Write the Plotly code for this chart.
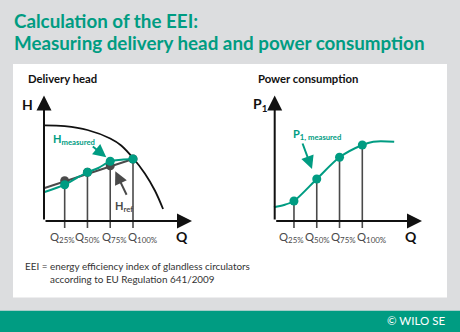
import plotly.graph_objects as go

W, H = 460, 332

# ---------------- data ----------------
q_points = [0.25, 0.5, 0.75, 1.0]
q_labels = ["Q<sub>25%</sub>", "Q<sub>50%</sub>", "Q<sub>75%</sub>", "Q<sub>100%</sub>"]

# pump curve (delivery head vs flow)
pump_q = [0.03, 0.25, 0.5, 0.75, 0.87, 1.0, 1.13, 1.24, 1.33]
pump_h = [95.7, 94.8, 91.0, 82.5, 75.5, 63.0, 47.5, 30.5, 12.0]

# measured head curve
hmeas_q = [0.03, 0.25, 0.38, 0.5, 0.62, 0.75, 0.87, 1.0]
hmeas_h = [29.0, 36.3, 43.0, 48.7, 53.0, 59.7, 61.3, 62.0]
hmeas_pts = [36.3, 48.7, 59.7, 62.0]

# reference head line
href_q = [0.03, 1.0]
href_h = [33.0, 62.0]
href_pts = [40.3, 48.7, 55.3, 62.0]

# measured power consumption
p1_q = [0.03, 0.14, 0.25, 0.5, 0.75, 1.0, 1.12, 1.35]
p1_v = [13.7, 16.0, 20.0, 42.0, 63.7, 76.0, 79.3, 79.3]
p1_pts = [20.0, 42.0, 63.7, 76.0]

# ---------------- style ----------------
GREEN = "#009c82"
GREY = "#4a4a4a"
DARK = "#111111"
BG = "#dcdddf"
FONT = "Lato"

# pixel geometry helpers
SX = 91.1          # px per flow unit
X0_L, X0_R = 41.9, 271.2
Y0 = 221.0         # pixel row of value 0
DOM_X_L = (28, 198)
DOM_X_R = (258, 428)
DOM_Y = (86, 246)


def px(x):
    return x / W


def py(y):
    return 1 - y / H


def qL(x):
    return (x - X0_L) / SX


def qR(x):
    return (x - X0_R) / SX


def v(y):
    return Y0 - y


fig = go.Figure()

# left chart traces
fig.add_trace(go.Scatter(x=pump_q, y=pump_h, mode="lines", line=dict(color=DARK, width=1.8, shape="spline"),
                         xaxis="x", yaxis="y", hoverinfo="skip"))
drop_x, drop_y = [], []
for q, h in zip(q_points, hmeas_pts):
    drop_x += [q, q, None]
    drop_y += [h, -7, None]
fig.add_trace(go.Scatter(x=drop_x, y=drop_y, mode="lines", line=dict(color=GREY, width=1.6),
                         xaxis="x", yaxis="y", hoverinfo="skip"))
fig.add_trace(go.Scatter(x=href_q, y=href_h, mode="lines", line=dict(color=GREY, width=2),
                         xaxis="x", yaxis="y", hoverinfo="skip"))
fig.add_trace(go.Scatter(x=q_points, y=href_pts, mode="markers", marker=dict(color=GREY, size=9),
                         xaxis="x", yaxis="y", hoverinfo="skip"))
fig.add_trace(go.Scatter(x=hmeas_q, y=hmeas_h, mode="lines", line=dict(color=GREEN, width=2, shape="spline"),
                         xaxis="x", yaxis="y", hoverinfo="skip"))
fig.add_trace(go.Scatter(x=q_points, y=hmeas_pts, mode="markers", marker=dict(color=GREEN, size=9),
                         xaxis="x", yaxis="y", hoverinfo="skip"))

# right chart traces
drop_x2, drop_y2 = [], []
for q, p in zip(q_points, p1_pts):
    drop_x2 += [q, q, None]
    drop_y2 += [p, -7, None]
fig.add_trace(go.Scatter(x=drop_x2, y=drop_y2, mode="lines", line=dict(color=GREY, width=1.6),
                         xaxis="x2", yaxis="y2", hoverinfo="skip"))
fig.add_trace(go.Scatter(x=p1_q, y=p1_v, mode="lines", line=dict(color=GREEN, width=2, shape="spline", smoothing=0.8),
                         xaxis="x2", yaxis="y2", hoverinfo="skip"))
fig.add_trace(go.Scatter(x=q_points, y=p1_pts, mode="markers", marker=dict(color=GREEN, size=9),
                         xaxis="x2", yaxis="y2", hoverinfo="skip"))

ax_common = dict(visible=False, showgrid=False, zeroline=False, fixedrange=True)
fig.update_layout(
    width=W, height=H, autosize=False,
    margin=dict(l=0, r=0, t=0, b=0),
    paper_bgcolor=BG, plot_bgcolor="rgba(0,0,0,0)",
    showlegend=False,
    font=dict(family=FONT, color=DARK),
    xaxis=dict(domain=[px(DOM_X_L[0]), px(DOM_X_L[1])], range=[qL(DOM_X_L[0]), qL(DOM_X_L[1])], **ax_common),
    yaxis=dict(domain=[py(DOM_Y[1]), py(DOM_Y[0])], range=[v(DOM_Y[1]), v(DOM_Y[0])], **ax_common),
    xaxis2=dict(domain=[px(DOM_X_R[0]), px(DOM_X_R[1])], range=[qR(DOM_X_R[0]), qR(DOM_X_R[1])], **ax_common),
    yaxis2=dict(domain=[py(DOM_Y[1]), py(DOM_Y[0])], range=[v(DOM_Y[1]), v(DOM_Y[0])], anchor="x2", **ax_common),
)

shapes = [
    dict(type="rect", xref="paper", yref="paper", x0=px(13), x1=px(447), y0=py(297.5), y1=py(64),
         fillcolor="white", line=dict(width=0), layer="below"),
    dict(type="rect", xref="paper", yref="paper", x0=0, x1=1, y0=0, y1=py(310.7),
         fillcolor=GREEN, line=dict(width=0), layer="below"),
]
fig.update_layout(shapes=shapes)

ann = []


def arrow(xr, yr, x, y, axv, ayv, color, width, size):
    ann.append(dict(xref=xr, yref=yr, axref=xr, ayref=yr, x=x, y=y, ax=axv, ay=ayv, text="",
                    showarrow=True, arrowhead=2, arrowsize=size, arrowwidth=width, arrowcolor=color,
                    standoff=0, startstandoff=0))


def text(t, x, y, size, color=DARK, bold=False, xanchor="left", yanchor="middle"):
    ann.append(dict(xref="paper", yref="paper", x=px(x), y=py(y), text=t, showarrow=False,
                    xanchor=xanchor, yanchor=yanchor,
                    font=dict(family=FONT, size=size, color=color, weight="bold" if bold else "normal")))


# axes with arrow heads
for xr, yr, q0, conv in (("x", "y", qL(44), qL), ("x2", "y2", qR(274.7), qR)):
    tipx = 192 if xr == "x" else 422
    arrow(xr, yr, conv(tipx), 0, q0, 0, DARK, 2, 1.5)
    arrow(xr, yr, q0, v(95.5), q0, 0, DARK, 2, 1.5)

# label arrows
arrow("x", "y", qL(106.3), v(157.3), qL(91.3), v(145.3), GREEN, 2, 1.3)
arrow("x", "y", qL(115.3), v(171.3), qL(127.3), v(196.3), GREY, 2, 1.3)
arrow("x2", "y2", qR(312), v(169), qR(302), v(142), GREEN, 2, 1.3)

# titles
text("Calculation of the EEI:", 12, 20.5, 18.8, GREEN, True)
text("Measuring delivery head and power consumption", 12, 42.5, 18.8, GREEN, True)

text("Delivery head", 25.5, 78.5, 11.3, DARK, True)
text("Power consumption", 255.5, 78.5, 11.3, DARK, True)

text("H", 27.5, 104, 14, DARK, True, xanchor="center")
text("P<sub>1</sub>", 260, 104, 14, DARK, True, xanchor="center")
text("Q", 182, 236, 14, DARK, True, xanchor="center")
text("Q", 411.3, 236, 14, DARK, True, xanchor="center")

shifts = [-2.5, 0.5, 3.8, 9.5]
for q, lab, s in zip(q_points, q_labels, shifts):
    text(lab, X0_L + q * SX + s, 237, 11.3, GREY, False, xanchor="center")
    text(lab, X0_R + q * SX + s, 237, 11.3, GREY, False, xanchor="center")

text("H<sub>measured</sub>", 50.5, 139, 11, GREEN, True)
text("H<sub>ref</sub>", 112.5, 206, 11, GREY, True)
text("P<sub>1, measured</sub>", 291, 135, 11, GREEN, True)

text("EEI = energy efficiency index of glandless circulators", 23, 266, 9.9, "#333333")
text("according to EU Regulation 641/2009", 47.5, 279, 9.9, "#333333")

text("© WILO SE", 446.5, 320.5, 11.5, "white", xanchor="right")

fig.update_layout(annotations=ann)

fig.write_html("out.html", config={"displayModeBar": False, "staticPlot": True})
